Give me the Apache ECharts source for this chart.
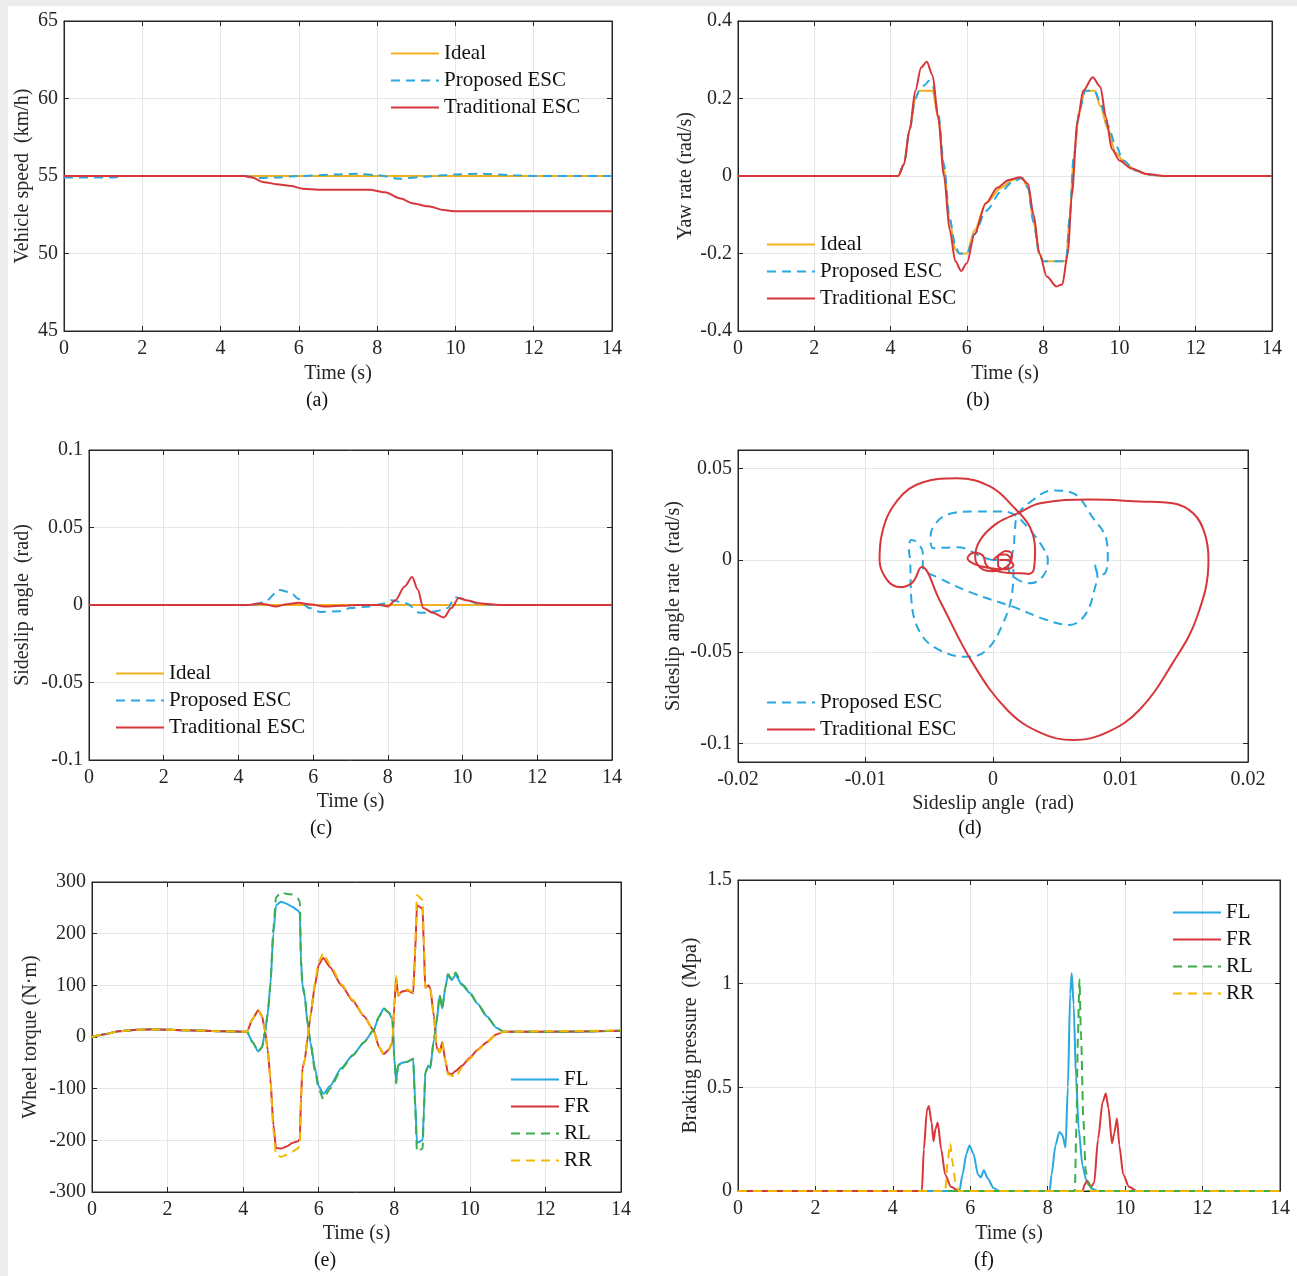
<!DOCTYPE html>
<html>
<head>
<meta charset="utf-8">
<title>ESC simulation results</title>
<script src="https://cdn.jsdelivr.net/npm/echarts/dist/echarts.min.js"></script>
<style>
  html, body { margin: 0; padding: 0; background: #fff; }
  #chart { width: 1297px; height: 1276px; }
</style>
</head>
<body>
<div id="chart"></div>
<script>
// (a) vehicle speed, km/h  [t, v]
var speedIdeal = [[0,55],[14,55]];
var speedProposed = [[0,54.9],[1.2,54.9],[1.6,55],[4.6,55],[5.0,54.87],[5.4,54.9],[6,55],[7,55.1],[7.5,55.15],[8,55.05],[8.6,54.82],[9.2,54.95],[10,55.1],[10.6,55.15],[11.5,55.05],[12,55],[14,55]];
var speedTraditional = [[0,55],[4.6,55],[4.8,54.9],[5.1,54.6],[5.5,54.45],[5.8,54.35],[6.1,54.18],[6.5,54.12],[7.8,54.12],[8.2,53.95],[8.6,53.55],[8.9,53.25],[9.3,53.05],[9.7,52.8],[10,52.72],[14,52.72]];

// (b) yaw rate, rad/s
var yawIdeal = [[0,0],[4.2,0],[4.35,0.03],[4.5,0.12],[4.65,0.2],[4.75,0.22],[5.1,0.22],[5.25,0.15],[5.4,0.02],[5.55,-0.12],[5.7,-0.19],[5.8,-0.2],[6.0,-0.2],[6.2,-0.14],[6.5,-0.07],[6.9,-0.03],[7.2,-0.01],[7.45,-0.005],[7.6,-0.03],[7.75,-0.12],[7.9,-0.2],[8.0,-0.22],[8.6,-0.22],[8.7,-0.1],[8.8,0.05],[8.95,0.17],[9.1,0.22],[9.35,0.22],[9.5,0.18],[9.7,0.12],[9.9,0.06],[10.1,0.04],[10.4,0.015],[10.8,0.003],[11.2,0],[14,0]];
var yawProposed = [[0,0],[4.2,0],[4.35,0.03],[4.5,0.12],[4.65,0.2],[4.75,0.22],[4.9,0.235],[5.0,0.245],[5.1,0.235],[5.25,0.16],[5.4,0.03],[5.55,-0.11],[5.7,-0.18],[5.8,-0.2],[6.0,-0.2],[6.2,-0.15],[6.5,-0.09],[6.9,-0.04],[7.2,-0.015],[7.45,-0.005],[7.6,-0.03],[7.75,-0.12],[7.9,-0.2],[8.0,-0.22],[8.6,-0.22],[8.7,-0.1],[8.8,0.05],[8.95,0.17],[9.1,0.22],[9.35,0.22],[9.5,0.19],[9.7,0.13],[9.9,0.08],[10.1,0.04],[10.4,0.015],[10.8,0.003],[11.2,0],[14,0]];
var yawTraditional = [[0,0],[4.2,0],[4.35,0.03],[4.5,0.12],[4.65,0.22],[4.8,0.28],[4.95,0.295],[5.1,0.26],[5.25,0.15],[5.4,0.0],[5.55,-0.14],[5.7,-0.22],[5.85,-0.245],[6.0,-0.225],[6.2,-0.15],[6.5,-0.07],[6.8,-0.03],[7.1,-0.01],[7.4,-0.003],[7.6,-0.02],[7.75,-0.1],[7.9,-0.2],[8.1,-0.26],[8.35,-0.285],[8.5,-0.28],[8.65,-0.2],[8.75,-0.05],[8.9,0.14],[9.05,0.22],[9.3,0.255],[9.5,0.23],[9.65,0.15],[9.8,0.07],[10.0,0.04],[10.3,0.02],[10.7,0.005],[11.2,0],[14,0]];

// (c) sideslip angle, rad
var slipIdeal = [[0,0],[14,0]];
var slipProposed = [[0,0],[4.4,0],[4.7,0.002],[5.1,0.0097],[5.4,0.008],[5.6,0.004],[5.9,-0.002],[6.2,-0.0045],[6.7,-0.004],[7.0,-0.002],[7.5,-0.001],[7.9,0.001],[8.1,0.003],[8.5,0.001],[8.85,-0.005],[9.0,-0.005],[9.3,-0.004],[9.6,-0.002],[9.8,0.005],[10.0,0.004],[10.4,0.001],[10.8,0],[14,0]];
var slipTraditional = [[0,0],[4.3,0],[4.5,0.001],[4.7,0.0005],[5.0,-0.001],[5.3,0.0005],[5.6,0.0015],[5.9,0.0005],[6.3,-0.001],[6.7,-0.0005],[7.2,0],[7.8,0],[8.0,-0.001],[8.2,0.003],[8.45,0.012],[8.65,0.018],[8.8,0.01],[8.95,-0.002],[9.2,-0.005],[9.5,-0.008],[9.7,-0.002],[9.9,0.0045],[10.1,0.003],[10.5,0.001],[11,0],[14,0]];

// (d) phase plane [sideslip angle, sideslip angle rate]
var phaseProposed = [[0,0],[-0.0008,0.0016],[-0.0028,0.007],[-0.0047,0.0065],[-0.0049,0.013],[-0.0045,0.02],[-0.0035,0.025],[-0.0015,0.0265],[0.0005,0.0265],[0.0016,0.025],[0.0027,0.018],[0.0039,0.007],[0.0043,0],[0.0039,-0.009],[0.0029,-0.0126],[0.0018,-0.01],[0.0012,-0.004],[0.0016,0.006],[0.0017,0.0147],[0.0019,0.024],[0.0031,0.0326],[0.0047,0.038],[0.0063,0.0364],[0.0078,0.0234],[0.0089,0.011],[0.009,0.0016],[0.0088,-0.007],[0.0083,-0.008],[0.008,-0.002],[0.0082,-0.01],[0.0081,-0.0126],[0.0073,-0.029],[0.006,-0.0353],[0.0042,-0.0326],[0.0016,-0.0255],[-0.0016,-0.018],[-0.0042,-0.0098],[-0.0055,-0.0038],[-0.0055,0.0038],[-0.006,0.0098],[-0.0064,0.011],[-0.0066,0.006],[-0.0065,0],[-0.0064,-0.0217],[-0.0057,-0.0397],[-0.0042,-0.049],[-0.002,-0.0527],[-0.0005,-0.049],[0.0008,-0.0342],[0.0015,-0.018],[0.0016,-0.005],[0.001,0],[0,0]];
var phaseTraditional = [[0,0],[0.0005,0.003],[0.001,0.005],[0.0015,0.003],[0.0012,-0.003],[0.0005,-0.005],[-0.0005,-0.004],[-0.0015,-0.002],[-0.002,0.001],[-0.0015,0.004],[-0.0008,0.0025],[-0.0005,-0.003],[0.0003,-0.006],[0.0012,-0.007],[0.0022,-0.0072],[0.0028,-0.0075],[0.0032,-0.005],[0.0033,0.0054],[0.0029,0.018],[0.0016,0.029],[-0.0002,0.04],[-0.0028,0.0446],[-0.0055,0.0424],[-0.0075,0.0326],[-0.0087,0.0147],[-0.0089,0],[-0.0083,-0.0109],[-0.0073,-0.0147],[-0.0063,-0.012],[-0.0056,-0.0038],[-0.0042,-0.0217],[-0.0016,-0.056],[0.0011,-0.0815],[0.0037,-0.094],[0.0063,-0.098],[0.0089,-0.094],[0.0115,-0.0815],[0.0141,-0.056],[0.016,-0.031],[0.0169,0],[0.0166,0.0147],[0.0157,0.0255],[0.0141,0.031],[0.0115,0.032],[0.0076,0.033],[0.0037,0.031],[0.0021,0.026],[0.0003,0.02],[-0.001,0.011],[-0.0014,0.0016],[-0.0008,-0.005],[0,-0.006],[0.001,-0.004],[0.0014,0],[0.001,0.003],[0.0004,0.002],[0.0004,-0.003],[0.001,-0.005],[0.0016,-0.003],[0.0012,0],[0.0005,0]];

// (e) wheel torque, N·m
var torqueFL = [[0,0],[0.3,5],[0.7,11],[1.2,14],[1.6,15],[2.5,13],[3.5,11],[4.1,10],[4.25,-10],[4.4,-28],[4.5,-20],[4.58,10],[4.65,45],[4.72,100],[4.8,200],[4.87,255],[5.0,262],[5.15,258],[5.3,252],[5.45,245],[5.5,240],[5.53,150],[5.57,100],[5.63,80],[5.7,30],[5.78,-10],[5.9,-60],[6.0,-95],[6.12,-110],[6.3,-95],[6.6,-60],[6.9,-35],[7.2,-10],[7.45,13],[7.6,40],[7.72,55],[7.85,48],[7.95,35],[8.0,-40],[8.05,-85],[8.1,-55],[8.2,-50],[8.35,-48],[8.5,-42],[8.55,-120],[8.6,-205],[8.75,-200],[8.78,-150],[8.82,-70],[8.9,-55],[8.95,-60],[9.05,-5],[9.12,30],[9.2,80],[9.27,55],[9.35,95],[9.42,120],[9.52,110],[9.62,120],[9.8,100],[10.0,85],[10.2,65],[10.45,40],[10.7,18],[10.9,10],[12,10],[14,12]];
var torqueFR = [[0,0],[0.3,5],[0.7,11],[1.2,14],[1.6,15],[2.5,13],[3.5,11],[4.1,10],[4.25,35],[4.4,52],[4.5,40],[4.58,12],[4.65,-25],[4.72,-80],[4.8,-170],[4.87,-215],[5.0,-216],[5.15,-212],[5.3,-205],[5.45,-202],[5.5,-198],[5.53,-120],[5.57,-60],[5.63,-45],[5.7,-5],[5.78,40],[5.9,100],[6.0,140],[6.12,153],[6.3,135],[6.6,100],[6.9,70],[7.2,40],[7.45,13],[7.6,-20],[7.72,-33],[7.85,-25],[7.95,-10],[8.0,60],[8.05,115],[8.1,80],[8.2,88],[8.35,90],[8.5,85],[8.55,160],[8.6,255],[8.75,248],[8.78,180],[8.82,95],[8.9,100],[8.95,95],[9.05,40],[9.12,-20],[9.2,-30],[9.27,-10],[9.35,-45],[9.42,-70],[9.52,-72],[9.62,-66],[9.8,-55],[10.0,-40],[10.2,-25],[10.45,-10],[10.7,5],[10.9,10],[12,10],[14,12]];
var torqueRL = [[0,0],[0.3,5],[0.7,11],[1.2,14],[1.6,15],[2.5,13],[3.5,11],[4.1,10],[4.25,-10],[4.4,-28],[4.5,-20],[4.58,10],[4.65,45],[4.72,100],[4.8,210],[4.87,270],[5.0,280],[5.15,277],[5.3,276],[5.45,268],[5.5,262],[5.53,150],[5.57,100],[5.63,80],[5.7,30],[5.78,-10],[5.9,-65],[6.0,-100],[6.12,-120],[6.3,-100],[6.6,-62],[6.9,-36],[7.2,-10],[7.45,13],[7.6,40],[7.72,55],[7.85,48],[7.95,35],[8.0,-40],[8.05,-90],[8.1,-55],[8.2,-50],[8.35,-48],[8.5,-42],[8.55,-130],[8.6,-222],[8.75,-216],[8.78,-150],[8.82,-70],[8.9,-55],[8.95,-60],[9.05,-5],[9.12,30],[9.2,82],[9.27,55],[9.35,95],[9.42,122],[9.52,112],[9.62,125],[9.8,102],[10.0,86],[10.2,65],[10.45,40],[10.7,18],[10.9,10],[12,10],[14,12]];
var torqueRR = [[0,0],[0.3,5],[0.7,11],[1.2,14],[1.6,15],[2.5,13],[3.5,11],[4.1,10],[4.25,35],[4.4,52],[4.5,40],[4.58,12],[4.65,-25],[4.72,-80],[4.8,-180],[4.87,-228],[5.0,-232],[5.15,-228],[5.3,-222],[5.45,-216],[5.5,-210],[5.53,-120],[5.57,-60],[5.63,-45],[5.7,-5],[5.78,40],[5.9,105],[6.0,145],[6.12,162],[6.3,140],[6.6,102],[6.9,72],[7.2,40],[7.45,13],[7.6,-20],[7.72,-33],[7.85,-25],[7.95,-10],[8.0,60],[8.05,118],[8.1,80],[8.2,90],[8.35,92],[8.5,87],[8.55,170],[8.6,275],[8.75,265],[8.78,180],[8.82,95],[8.9,100],[8.95,95],[9.05,40],[9.12,-20],[9.2,-30],[9.27,-10],[9.35,-45],[9.42,-72],[9.52,-75],[9.62,-78],[9.8,-58],[10.0,-42],[10.2,-26],[10.45,-10],[10.7,5],[10.9,10],[12,11],[14,13]];

// (f) braking pressure, MPa
var brakeFL = [[0,0],[5.72,0],[5.8,0.08],[5.9,0.18],[5.98,0.22],[6.08,0.18],[6.2,0.08],[6.27,0.065],[6.35,0.1],[6.45,0.06],[6.6,0.015],[6.75,0],[8.05,0],[8.1,0.08],[8.2,0.22],[8.3,0.285],[8.38,0.27],[8.46,0.21],[8.52,0.5],[8.58,0.95],[8.62,1.05],[8.67,0.9],[8.73,0.55],[8.8,0.3],[8.9,0.12],[9.0,0.05],[9.15,0.01],[9.3,0],[14,0]];
var brakeFR = [[0,0],[4.75,0],[4.8,0.2],[4.88,0.39],[4.93,0.41],[5.0,0.33],[5.05,0.24],[5.1,0.3],[5.16,0.33],[5.25,0.2],[5.35,0.08],[5.5,0.02],[5.7,0],[8.9,0],[8.95,0.03],[9.02,0.05],[9.12,0.02],[9.2,0.04],[9.3,0.25],[9.42,0.43],[9.5,0.47],[9.57,0.4],[9.66,0.23],[9.72,0.28],[9.79,0.35],[9.85,0.22],[9.95,0.08],[10.1,0.02],[10.3,0],[14,0]];
var brakeRL = [[0,0],[8.7,0],[8.74,0.3],[8.78,0.75],[8.82,1.02],[8.86,0.75],[8.92,0.35],[8.98,0.1],[9.05,0.03],[9.2,0],[14,0]];
var brakeRR = [[0,0],[5.35,0],[5.42,0.15],[5.48,0.23],[5.54,0.14],[5.62,0.04],[5.7,0],[14,0]];

var FONT = 'Liberation Serif';
var INK = '#262626';
var C_IDEAL = '#F2B01E', C_PROP = '#29A8E0', C_TRAD = '#D7363A';
var C_FL = '#29A8E0', C_FR = '#D7363A', C_RL = '#3DAE49', C_RR = '#F5B800';
var DASH = [9, 6];

var grids = [], xAxes = [], yAxes = [], series = [], legends = [], texts = [];

function axis(g, pos, cfg, main) {
  var vertical = (pos === 'left' || pos === 'right');
  return {
    gridIndex: g, type: 'value', position: pos,
    min: cfg.min, max: cfg.max, interval: cfg.step,
    axisLine: { show: true, onZero: false, lineStyle: { color: INK } },
    axisTick: { show: true, inside: true, length: 5, lineStyle: { color: INK }, customValues: cfg.ticks },
    axisLabel: { show: main, customValues: cfg.ticks, fontFamily: FONT, fontSize: 20, color: INK, margin: vertical ? 6 : 8 },
    splitLine: { show: main, lineStyle: { color: '#e6e6e6' } },
    name: main ? cfg.name : '',
    nameLocation: 'middle', nameGap: cfg.gap,
    nameTextStyle: { fontFamily: FONT, fontSize: 20, color: INK }
  };
}

function panel(box, xs, ys) {
  var g = grids.length;
  grids.push({ left: box[0], top: box[1], width: box[2], height: box[3], show: true,
    borderColor: INK, borderWidth: 1, backgroundColor: '#fff', containLabel: false, outerBoundsMode: 'none' });
  var xi = xAxes.length, yi = yAxes.length;
  xAxes.push(axis(g, 'bottom', xs, true));
  xAxes.push(axis(g, 'top', xs, false));
  yAxes.push(axis(g, 'left', ys, true));
  yAxes.push(axis(g, 'right', ys, false));
  return { x: xi, y: yi };
}

function line(p, name, data, color, dashed, smooth, mono) {
  series.push({
    type: 'line', name: name, xAxisIndex: p.x, yAxisIndex: p.y, data: data,
    symbol: 'none', smooth: smooth, smoothMonotone: mono ? 'x' : undefined,
    lineStyle: { color: color, width: 2, type: dashed ? DASH : 'solid' },
    itemStyle: { color: color }
  });
}

function legend(left, top, names) {
  legends.push({
    left: left, top: top, orient: 'vertical', padding: 0,
    itemWidth: 48, itemHeight: 14, itemGap: 6, selectedMode: false,
    itemStyle: { opacity: 0 },   // line only, no marker in the key
    textStyle: { fontFamily: FONT, fontSize: 21, color: '#111' },
    data: names
  });
}

function caption(x, y, s) {
  texts.push({ type: 'text', x: x, y: y, style: { text: s, font: '20px "' + FONT + '"', fill: '#111', textAlign: 'center', textVerticalAlign: 'middle' } });
}

var timeAxis = function (gap) { return { min: 0, max: 14, step: 2, name: 'Time (s)', gap: gap }; };

// (a)
var pa = panel([64, 21, 548, 310], timeAxis(33),
  { min: 45, max: 65, step: 5, name: 'Vehicle speed  (km/h)', gap: 31 });
line(pa, 'Ideal', speedIdeal, C_IDEAL, false, 0.3, true);
line(pa, 'Proposed ESC', speedProposed, C_PROP, true, 0.3, true);
line(pa, 'Traditional ESC', speedTraditional, C_TRAD, false, 0.3, true);
legend(390, 43, ['Ideal', 'Proposed ESC', 'Traditional ESC']);
caption(317, 401, '(a)');

// (b)
var pb = panel([738, 21, 534, 310], timeAxis(33),
  { min: -0.4, max: 0.4, step: 0.2, name: 'Yaw rate (rad/s)', gap: 42 });
line(pb, 'Ideal', yawIdeal, C_IDEAL, false, 0.3, true);
line(pb, 'Proposed ESC', yawProposed, C_PROP, true, 0.3, true);
line(pb, 'Traditional ESC', yawTraditional, C_TRAD, false, 0.3, true);
legend(766, 234, ['Ideal', 'Proposed ESC', 'Traditional ESC']);
caption(978, 401, '(b)');

// (c)
var pc = panel([89, 450, 523, 310], timeAxis(32),
  { min: -0.1, max: 0.1, step: 0.05, name: 'Sideslip angle  (rad)', gap: 56 });
line(pc, 'Ideal', slipIdeal, C_IDEAL, false, 0.3, true);
line(pc, 'Proposed ESC', slipProposed, C_PROP, true, 0.3, true);
line(pc, 'Traditional ESC', slipTraditional, C_TRAD, false, 0.3, true);
legend(115, 663, ['Ideal', 'Proposed ESC', 'Traditional ESC']);
caption(321, 829, '(c)');

// (d)
var pd = panel([738, 450, 510, 312],
  { min: -0.02, max: 0.02, step: 0.01, name: 'Sideslip angle  (rad)', gap: 32 },
  { min: -0.11, max: 0.06, step: 0.01, ticks: [-0.1, -0.05, 0, 0.05], name: 'Sideslip angle rate  (rad/s)', gap: 54 });
line(pd, 'Proposed ESC', phaseProposed, C_PROP, true, 0.4, false);
line(pd, 'Traditional ESC', phaseTraditional, C_TRAD, false, 0.4, false);
legend(766, 692, ['Proposed ESC', 'Traditional ESC']);
caption(970, 829, '(d)');

// (e)
var pe = panel([92, 882, 529, 310], timeAxis(32),
  { min: -300, max: 300, step: 100, name: 'Wheel torque (N·m)', gap: 51 });
line(pe, 'FL', torqueFL, C_FL, false, 0.2, true);
line(pe, 'FR', torqueFR, C_FR, false, 0.2, true);
line(pe, 'RL', torqueRL, C_RL, true, 0.2, true);
line(pe, 'RR', torqueRR, C_RR, true, 0.2, true);
legend(510, 1069, ['FL', 'FR', 'RL', 'RR']);
caption(325, 1261, '(e)');

// (f)
var pf = panel([738, 880, 542, 311], timeAxis(33),
  { min: 0, max: 1.5, step: 0.5, name: 'Braking pressure  (Mpa)', gap: 37 });
line(pf, 'FL', brakeFL, C_FL, false, 0.25, true);
line(pf, 'FR', brakeFR, C_FR, false, 0.25, true);
line(pf, 'RL', brakeRL, C_RL, true, 0.25, true);
line(pf, 'RR', brakeRR, C_RR, true, 0.25, true);
legend(1172, 902, ['FL', 'FR', 'RL', 'RR']);
caption(984, 1261, '(f)');

// thin grey page edge seen on the scan
texts.push({ type: 'rect', shape: { x: 0, y: 0, width: 1297, height: 6 }, style: { fill: '#ececec' }, z: -1 });
texts.push({ type: 'rect', shape: { x: 0, y: 0, width: 8, height: 1276 }, style: { fill: '#ececec' }, z: -1 });

var chart = echarts.init(document.getElementById('chart'), null, { renderer: 'canvas' });
chart.setOption({
  animation: false,
  backgroundColor: '#fff',
  grid: grids,
  xAxis: xAxes,
  yAxis: yAxes,
  legend: legends,
  series: series,
  graphic: texts
});
</script>
</body>
</html>
